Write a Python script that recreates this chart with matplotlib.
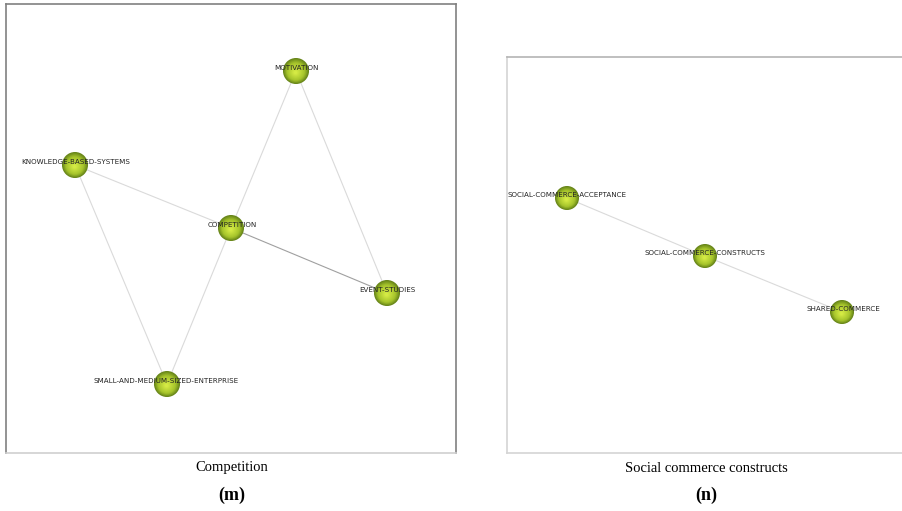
import matplotlib
matplotlib.use("Agg")
import matplotlib.pyplot as plt
from matplotlib.patches import Circle
import numpy as np

# ---- data: network layouts (panel-relative layout coordinates) ----
m_nodes = ["MOTIVATION", "KNOWLEDGE-BASED-SYSTEMS", "COMPETITION",
           "EVENT-STUDIES", "SMALL-AND-MEDIUM-SIZED-ENTERPRISE"]
m_x = [290, 69, 225, 381, 161]
m_y = [67, 161, 224, 289, 380]
m_label_dx = [0, 1, 1, 0, -1]
m_edges = [(0, 2), (0, 3), (1, 2), (1, 4), (2, 3), (2, 4)]
m_edge_strength = [1, 1, 1, 1, 2, 1]

n_nodes = ["SOCIAL-COMMERCE-ACCEPTANCE", "SOCIAL-COMMERCE-CONSTRUCTS", "SHARED-COMMERCE"]
n_x = [60, 198, 335]
n_y = [141, 199, 255]
n_label_dx = [0, 0, 1]
n_edges = [(0, 1), (1, 2)]
n_edge_strength = [1, 1]

captions = ["Competition", "Social commerce constructs"]
letters = ["(m)", "(n)"]

W, H = 902, 511
fig = plt.figure(figsize=(W / 100, H / 100), dpi=100)


def draw_node(ax, x, y, r):
    outer = np.array([0x66, 0x84, 0x18]) / 255
    mid = np.array([0xa6, 0xc4, 0x2c]) / 255
    inner = np.array([0xd4, 0xea, 0x44]) / 255
    n = 16
    for i in range(n):
        t = i / (n - 1)
        rr = r * (1 - 0.88 * t)
        if t < 0.35:
            u = t / 0.35
            c = outer * (1 - u) + mid * u
        else:
            u = (t - 0.35) / 0.65
            c = mid * (1 - u) + inner * u
        ax.add_patch(Circle((x - 0.5 * t, y + 1.5 * t), rr, color=c, lw=0, zorder=3 + i * 0.01))


def panel(rect, xs, ys, names, dxs, edges, strength, r, wdata, hdata, spine_cols):
    ax = fig.add_axes(rect)
    ax.set_xlim(0, wdata)
    ax.set_ylim(hdata, 0)
    ax.set_xticks([])
    ax.set_yticks([])
    for k, c in spine_cols.items():
        if c is None:
            ax.spines[k].set_visible(False)
        else:
            ax.spines[k].set_color(c)
            ax.spines[k].set_linewidth(1.2)
    for (a, b), s in zip(edges, strength):
        col = "#a0a0a0" if s > 1 else "#dadada"
        ax.plot([xs[a], xs[b]], [ys[a], ys[b]], color=col, lw=0.8, zorder=1)
    for x, y, name, dx in zip(xs, ys, names, dxs):
        draw_node(ax, x, y, r)
        ax.text(x + dx, y - 3, name, fontsize=5.1, color="#222222",
                ha="center", va="center", family="DejaVu Sans", zorder=5)
    return ax


# left panel: pixels x 6..456, y 4..453
panel([6 / W, (H - 453) / H, 450 / W, 449 / H], m_x, m_y, m_nodes, m_label_dx,
      m_edges, m_edge_strength, 13, 450, 449,
      {"left": "#808080", "top": "#808080", "right": "#808080", "bottom": "#cfcfcf"})

# right panel: pixels x 507..902, y 57..453
panel([507 / W, (H - 453) / H, 395 / W, 396 / H], n_x, n_y, n_nodes, n_label_dx,
      n_edges, n_edge_strength, 12, 395, 396,
      {"left": "#d4d4d4", "top": "#b4b4b4", "right": None, "bottom": "#d4d4d4"})

for cx, cap, let in zip([232, 706], captions, letters):
    fig.text(cx / W, 1 - 468 / H, cap, ha="center", va="center",
             family="Liberation Serif", fontsize=10.5)
    fig.text(cx / W, 1 - 495 / H, let, ha="center", va="center",
             family="Liberation Serif", fontsize=13, fontweight="bold")

fig.savefig("out.png", dpi=100)
